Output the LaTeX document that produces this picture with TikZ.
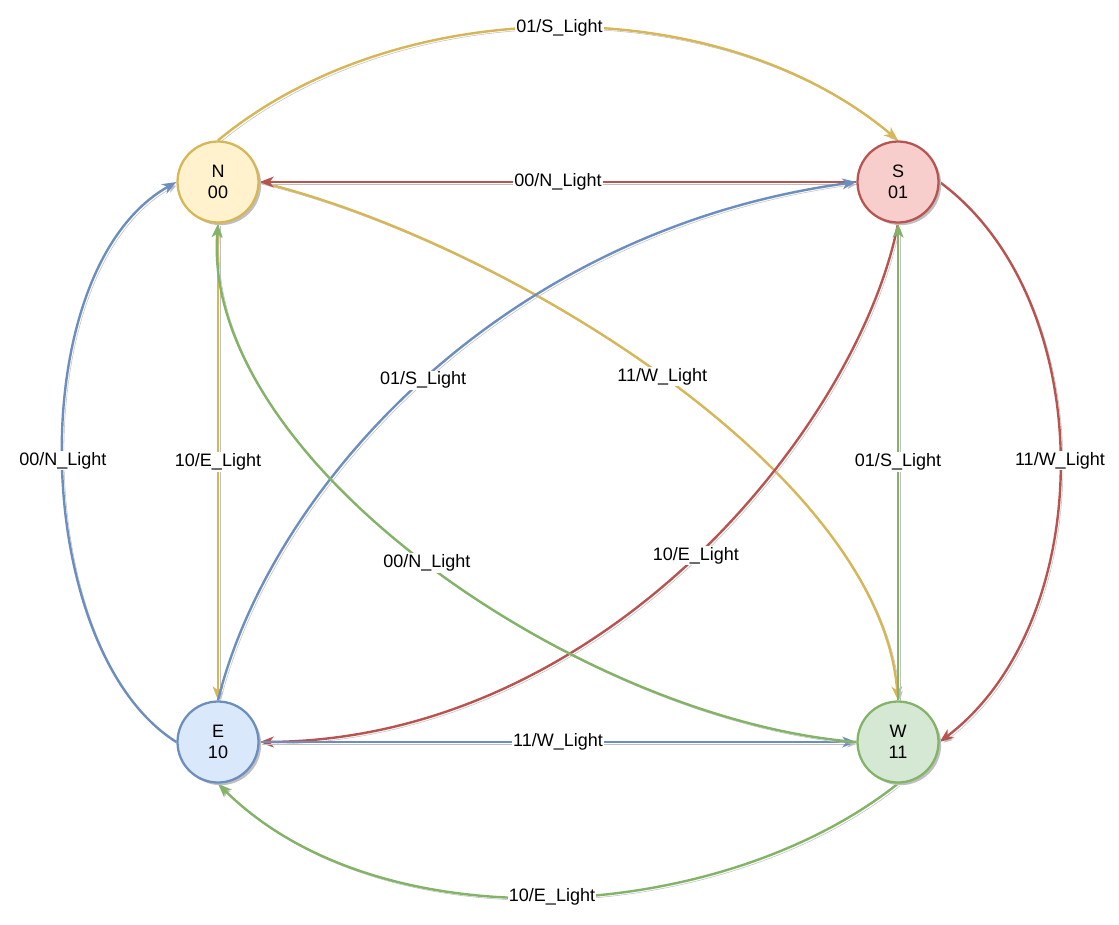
\documentclass[tikz,border=0pt]{standalone}
\usepackage{fontspec}
\setmainfont{Liberation Sans}
\usetikzlibrary{positioning,arrows.meta,backgrounds,shadows}
\definecolor{ylwline}{HTML}{D6B656}
\definecolor{ylwfill}{HTML}{FFF2CC}
\definecolor{redline}{HTML}{B85450}
\definecolor{redfill}{HTML}{F8CECC}
\definecolor{blueline}{HTML}{6C8EBF}
\definecolor{bluefill}{HTML}{DAE8FC}
\definecolor{grnline}{HTML}{82B366}
\definecolor{grnfill}{HTML}{D5E8D4}
\tikzset{
  state/.style ={circle, minimum size=60.75pt, inner sep=0pt, line width=1.7pt, align=center,
                 font=\fontsize{13.5}{15.5}\selectfont,
                 drop shadow={shadow xshift=2pt, shadow yshift=-2pt, fill=black!25, opacity=1}},
  tr/.style    ={-{Stealth[length=10.5pt,width=8pt,inset=3pt]}, line width=1.8pt,
                 preaction={draw=black!25, transform canvas={shift={(1.6pt,-1.6pt)}}}},
  lbl/.style   ={fill=white, inner sep=1pt, text=black, font=\fontsize{13.5}{15}\selectfont},
}
\begin{document}
\begin{tikzpicture}[x=0.75pt,y=-0.75pt,node distance=420pt and 510pt,on grid]
\useasboundingbox (0,0) rectangle (1119,924);
\node[state,draw=ylwline,fill=ylwfill] (N) at (218,182) {N\\00};
\node[state,draw=redline,fill=redfill,right=of N] (S) {S\\01};
\node[state,draw=blueline,fill=bluefill,below=of N] (E) {E\\10};
\node[state,draw=grnline,fill=grnfill,below=of S] (W) {W\\11};

\begin{scope}[on background layer]
% from N
\draw[tr,draw=ylwline] (N.north) .. controls (400,-10) and (720,-10) .. (S.north) node[lbl,pos=0.5] {01/S\_Light};
\draw[tr,draw=ylwline] (N) -- node[lbl] {10/E\_Light} (E);
\draw[tr,draw=ylwline] (N.east) .. controls (500,240) and (880,470) .. (W.north) node[lbl,pos=0.5] {11/W\_Light};
% from S
\draw[tr,draw=redline] (S) -- node[lbl] {00/N\_Light} (N);
\draw[tr,draw=redline] (S.south) .. controls (860,420) and (610,740) .. (E.east) node[lbl,pos=0.5] {10/E\_Light};
\draw[tr,draw=redline] (S.east) .. controls (1100,300) and (1100,620) .. (W.east) node[lbl,pos=0.5] {11/W\_Light};
% from E
\draw[tr,draw=blueline] (E.west) .. controls (30,650) and (20,270) .. (N.west) node[lbl,pos=0.5] {00/N\_Light};
\draw[tr,draw=blueline] (E.north) .. controls (270,490) and (500,230) .. (S.west) node[lbl,pos=0.5] {01/S\_Light};
\draw[tr,draw=blueline] (E) -- node[lbl] {11/W\_Light} (W);
% from W
\draw[tr,draw=grnline] (W.west) .. controls (580,720) and (200,460) .. (N.south) node[lbl,pos=0.5] {00/N\_Light};
\draw[tr,draw=grnline] (W) -- node[lbl] {01/S\_Light} (S);
\draw[tr,draw=grnline] (W.south) .. controls (720,925) and (380,945) .. (E.south) node[lbl,pos=0.5] {10/E\_Light};
\end{scope}
\end{tikzpicture}
\end{document}
